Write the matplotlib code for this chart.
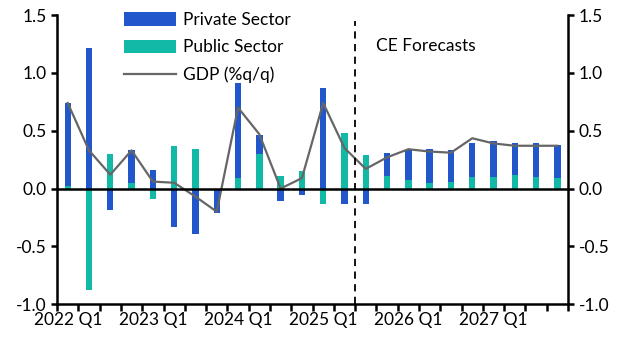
import matplotlib.pyplot as plt
import numpy as np

plt.rcParams['font.family'] = ['Lato', 'DejaVu Sans']

quarters = [f"{y} Q{q}" for y in range(2022, 2028) for q in range(1, 5)]
private = [0.72, 1.22, -0.19, 0.28, 0.16, -0.33, -0.39, -0.21,
           0.82, 0.16, -0.11, -0.06, 0.87, -0.13, -0.13, 0.20,
           0.26, 0.29, 0.27, 0.29, 0.315, 0.27, 0.29, 0.285]
public = [0.02, -0.88, 0.30, 0.05, -0.09, 0.37, 0.34, 0.0,
          0.09, 0.30, 0.11, 0.155, -0.13, 0.48, 0.29, 0.11,
          0.07, 0.05, 0.06, 0.10, 0.10, 0.12, 0.10, 0.095]
gdp = [0.74, 0.33, 0.12, 0.33, 0.06, 0.05, -0.07, -0.20,
       0.70, 0.47, 0.0, 0.09, 0.74, 0.35, 0.17, 0.27,
       0.34, 0.32, 0.31, 0.435, 0.39, 0.37, 0.37, 0.37]

blue = '#2257CC'
teal = '#12B9A6'

private = np.array(private)
public = np.array(public)
x = np.arange(len(quarters))

# stack positives and negatives separately, public sector at the base
priv_base = np.where((public > 0) & (private > 0), public, 0)
priv_base = np.where((public < 0) & (private < 0), public, priv_base)

fig = plt.figure(figsize=(6.27, 3.52), dpi=100)
ax = fig.add_axes([0.091, 0.136, 0.815, 0.821])

b1 = ax.bar(x, private, 0.3, bottom=priv_base, color=blue, label='Private Sector', zorder=2)
b2 = ax.bar(x, public, 0.3, color=teal, label='Public Sector', zorder=2)
l1, = ax.plot(x, gdp, color='#666666', lw=1.6, label='GDP (%q/q)', zorder=3)

ax.axhline(0, color='black', lw=1.8, zorder=4)
ax.plot([13.5, 13.5], [-1.0, 1.45], color='black', lw=1.3, ls=(0, (4, 3)), zorder=4)
ax.text(16.8, 1.23, 'CE Forecasts', fontsize=12.5, ha='center', va='center')

ax.set_xlim(-0.5, 23.5)
ax.set_ylim(-1.0, 1.5)
ax.set_yticks([-1.0, -0.5, 0.0, 0.5, 1.0, 1.5])
ax.set_yticklabels([f"{v:.1f}" for v in [-1.0, -0.5, 0.0, 0.5, 1.0, 1.5]])
ax.set_xticks(x[::4])
ax.set_xticklabels(quarters[::4])
ax.set_xticks(np.arange(-0.5, 24, 1), minor=True)
ax.tick_params(axis='x', which='major', length=0, labelsize=12.5, pad=6)
ax.tick_params(axis='x', which='minor', length=5, width=1.8, direction='out')
ax.tick_params(axis='y', length=4, width=1.8, labelsize=12.5, right=True, labelright=True)

for side in ['left', 'right', 'bottom']:
    ax.spines[side].set_linewidth(1.8)
ax.spines['top'].set_visible(False)

ax.legend([b1, b2, l1], ['Private Sector', 'Public Sector', 'GDP (%q/q)'],
          loc='upper left', bbox_to_anchor=(0.117, 1.035), frameon=False, fontsize=12.5,
          handlelength=3.0, handleheight=0.8, handletextpad=0.4,
          labelspacing=0.65, borderaxespad=0)

fig.savefig('out.png', dpi=100)
